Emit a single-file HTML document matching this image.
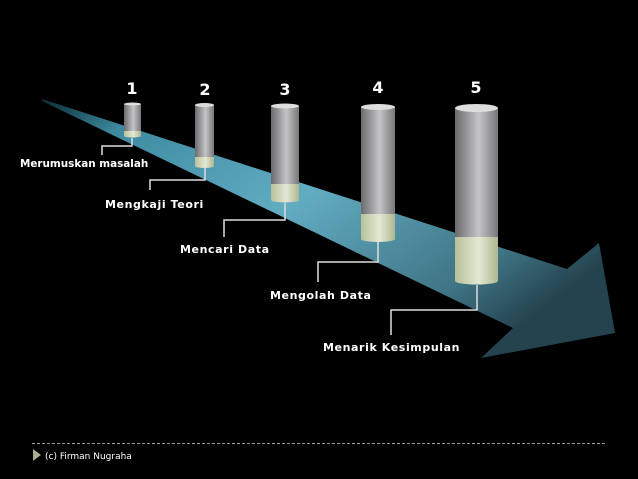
<!DOCTYPE html>
<html><head><meta charset="utf-8"><style>
html,body{margin:0;padding:0;background:#000;width:638px;height:479px;overflow:hidden}
svg{display:block}
text{font-family:"DejaVu Sans","Liberation Sans",sans-serif;font-weight:bold;fill:#fff}
</style></head><body>
<svg width="638" height="479" viewBox="0 0 638 479">
<defs>
<linearGradient id="arr" x1="0" y1="0" x2="1" y2="0.6">
<stop offset="0" stop-color="#0d2a33"/><stop offset="0.15" stop-color="#3d8aa0"/>
<stop offset="0.5" stop-color="#62acc2"/><stop offset="0.85" stop-color="#3f7484"/><stop offset="1" stop-color="#24434e"/>
</linearGradient>
<linearGradient id="gr" x1="0" x2="1">
<stop offset="0" stop-color="#6b6b6e"/><stop offset="0.55" stop-color="#c4c4c6"/><stop offset="1" stop-color="#77777a"/>
</linearGradient>
<linearGradient id="cr" x1="0" x2="1">
<stop offset="0" stop-color="#b7c198"/><stop offset="0.55" stop-color="#e3e8d6"/><stop offset="1" stop-color="#aeb78e"/>
</linearGradient>
</defs>
<polygon points="42,99 567,269 599,243 615,333 481,358 513,328 42,101" fill="url(#arr)"/>
<g>
<rect x="124" y="104" width="17" height="27" fill="url(#gr)"/><rect x="124" y="131" width="17" height="5" fill="url(#cr)"/><ellipse cx="132.5" cy="136" rx="8.5" ry="1.5" fill="url(#cr)"/><ellipse cx="132.5" cy="104" rx="8.5" ry="1.5" fill="#ddd"/>
<rect x="195" y="105" width="19" height="52" fill="url(#gr)"/><rect x="195" y="157" width="19" height="9" fill="url(#cr)"/><ellipse cx="204.5" cy="166" rx="9.5" ry="2" fill="url(#cr)"/><ellipse cx="204.5" cy="105" rx="9.5" ry="2" fill="#ddd"/>
<rect x="271" y="106" width="28" height="78" fill="url(#gr)"/><rect x="271" y="184" width="28" height="16" fill="url(#cr)"/><ellipse cx="285" cy="200" rx="14" ry="2.5" fill="url(#cr)"/><ellipse cx="285" cy="106" rx="14" ry="2.5" fill="#ddd"/>
<rect x="361" y="107" width="34" height="107" fill="url(#gr)"/><rect x="361" y="214" width="34" height="25" fill="url(#cr)"/><ellipse cx="378" cy="239" rx="17" ry="3" fill="url(#cr)"/><ellipse cx="378" cy="107" rx="17" ry="3" fill="#ddd"/>
<rect x="455" y="108" width="43" height="129" fill="url(#gr)"/><rect x="455" y="237" width="43" height="44" fill="url(#cr)"/><ellipse cx="476.5" cy="281" rx="21.5" ry="3.5" fill="url(#cr)"/><ellipse cx="476.5" cy="108" rx="21.5" ry="4" fill="#ddd"/>
</g>
<g fill="none" stroke="#ddd" stroke-width="1.5">
<polyline points="132,138 132,146 102,146 102,155"/>
<polyline points="205,168 205,180 150,180 150,190"/>
<polyline points="285,203 285,220 224,220 224,237"/>
<polyline points="378,242 378,262 318,262 318,282"/>
<polyline points="477,285 477,310 391,310 391,335"/>
</g>
<g font-size="16" text-anchor="middle">
<text x="132" y="94">1</text><text x="205" y="95">2</text><text x="285" y="95">3</text><text x="378" y="93">4</text><text x="476" y="93">5</text>
</g>
<text x="20" y="167" font-size="10.4">Merumuskan masalah</text>
<g font-size="11" letter-spacing="0.6">
<text x="105" y="208">Mengkaji Teori</text>
<text x="180" y="253">Mencari Data</text>
<text x="270" y="299">Mengolah Data</text>
<text x="323" y="351">Menarik Kesimpulan</text>
</g>
<line x1="32" y1="443.5" x2="606" y2="443.5" stroke="#999" stroke-dasharray="3,2" stroke-width="1"/>
<polygon points="33,449 41,455 33,461" fill="#a4b08a"/>
<text x="45" y="459" font-size="9" style="font-weight:normal" fill="#ddd">(c) Firman Nugraha</text>
</svg>
</body></html>
